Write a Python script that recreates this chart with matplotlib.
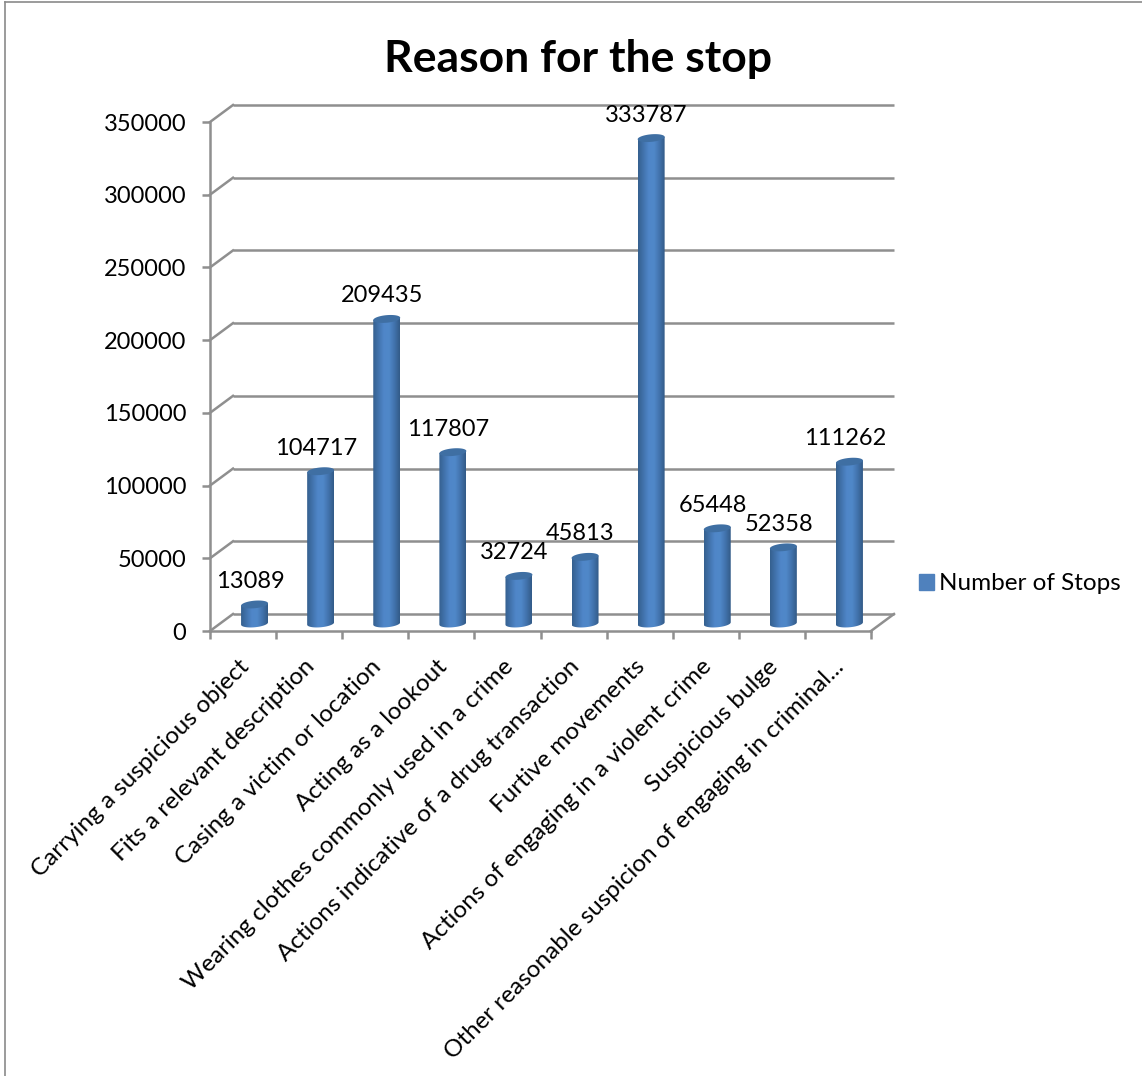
import numpy as np
import matplotlib
matplotlib.use("Agg")
import matplotlib.pyplot as plt
from matplotlib.colors import LinearSegmentedColormap
from matplotlib.lines import Line2D
from matplotlib.patches import Patch, PathPatch
from matplotlib.path import Path
from matplotlib.transforms import ScaledTranslation

plt.rcParams['font.family'] = ['Lato', 'DejaVu Sans']

categories = [
    "Carrying a suspicious object",
    "Fits a relevant description",
    "Casing a victim or location",
    "Acting as a lookout",
    "Wearing clothes commonly used in a crime",
    "Actions indicative of a drug transaction",
    "Furtive movements",
    "Actions of engaging in a violent crime",
    "Suspicious bulge",
    "Other reasonable suspicion of engaging in criminal...",
]
stops = [13089, 104717, 209435, 117807, 32724, 45813, 333787, 65448, 52358, 111262]
y_ticks = [0, 50000, 100000, 150000, 200000, 250000, 300000, 350000]
series_name = "Number of Stops"
title = "Reason for the stop"

W, H = 1142, 1076
GRID = '#8f8f8f'
TEXT = '#000000'

fig = plt.figure(figsize=(W / 100, H / 100), dpi=100, facecolor='white')
# axes is the front plane of the fake 3d box
ax = fig.add_axes([210 / W, 1 - 631 / H, 661 / W, 509 / H])
ax.set_facecolor('none')


def shifted(dx, dy):
    # pixel offset on top of the data scale, y up
    return ax.transData + ScaledTranslation(dx / 100, dy / 100, fig.dpi_scale_trans)


back = shifted(23, 17)
bar_trans = shifted(11.5, 7.5)
xmin, xmax = -0.5, len(stops) - 0.5

# back wall lines and the slanted bit on the side wall
for v in y_ticks:
    ax.plot([xmin, xmax], [v, v], transform=back, color=GRID, lw=1.8, clip_on=False, zorder=1,
            solid_capstyle='butt')
    ax.add_line(Line2D([210 / W, 233 / W], [1 - (631 - v * 509 / 350000) / H, 1 - (614 - v * 509 / 350000) / H],
                       transform=fig.transFigure, color=GRID, lw=1.8, clip_on=False, zorder=1))
# floor right edge
fig.add_artist(Line2D([871 / W, 894 / W], [1 - 631 / H, 1 - 614 / H], color=GRID, lw=1.8))

cyl = LinearSegmentedColormap.from_list('cyl', ['#35608f', '#4273ad', '#4f86c8', '#5088c9', '#4273ad', '#335b88'])
half = 0.204
rise = 2600
tilt = 800
t = np.linspace(0, np.pi, 40)

for i, val in enumerate(stops):
    xs = half * np.cos(t)
    # body outline, lower edge then upper edge
    top_x = i + xs
    top_y = val + rise * 0.2 * np.sin(t) + tilt * np.cos(t)
    low_x = i - xs
    low_y = -rise * np.sin(t) - tilt * np.cos(t)
    verts = np.column_stack([np.r_[top_x, low_x], np.r_[top_y, low_y]])
    clip = PathPatch(Path(np.vstack([verts, verts[0]])), transform=bar_trans, fc='none', ec='none')
    ax.add_patch(clip)
    im = ax.imshow(np.linspace(0, 1, 64).reshape(1, -1), cmap=cyl, aspect='auto', interpolation='bilinear',
                   extent=(i - half, i + half, -6000, val + 6000), zorder=3)
    im.set_transform(bar_trans)
    im.set_clip_path(clip)
    # dark cap
    ct = np.linspace(0, 2 * np.pi, 60)
    ax.fill(i + half * np.cos(ct), val + rise * np.sin(ct) + tilt * np.cos(ct), transform=bar_trans,
            color='#3f6fa3', lw=0, zorder=4, clip_on=False)
    ax.annotate(str(val), (i, val), xytext=(7, 30.5), textcoords='offset pixels', ha='center', va='center',
                fontsize=17, color=TEXT, zorder=5, annotation_clip=False)

ax.set_xlim(xmin, xmax)
ax.set_ylim(0, 350000)
for s in ['top', 'right']:
    ax.spines[s].set_visible(False)
for s in ['left', 'bottom']:
    ax.spines[s].set_color(GRID)
    ax.spines[s].set_linewidth(1.8)
    ax.spines[s].set_zorder(2)

ax.set_yticks(y_ticks)
ax.set_yticklabels([str(v) for v in y_ticks], fontsize=17, color=TEXT)
ax.tick_params(axis='y', length=6, width=1.8, color=GRID, pad=11)
ax.set_xticks(np.arange(xmin, xmax + 1), minor=True)
ax.set_xticks(np.arange(len(categories)))
ax.set_xticklabels(categories, rotation=45, ha='right', va='top', rotation_mode='anchor', fontsize=17.5, color=TEXT)
ax.tick_params(axis='x', which='major', length=0, pad=18)
ax.tick_params(axis='x', which='minor', length=6, width=1.8, color=GRID)
nudge = ScaledTranslation(-5 / 100, 0, fig.dpi_scale_trans)
for lab in ax.get_xticklabels():
    lab.set_transform(lab.get_transform() + nudge)

fig.text(578 / W, 1 - 59 / H, title, ha='center', va='center', fontsize=32, fontweight='bold', color=TEXT)
fig.legend(handles=[Patch(color='#4f81bd', label=series_name)], loc='center left',
           bbox_to_anchor=(897 / W, 1 - 584 / H), frameon=False, fontsize=17.5, handlelength=0.62,
           handleheight=0.62, handletextpad=0.2, labelcolor=TEXT)

# outer chart frame, cut off by the crop
fig.add_artist(Line2D([5 / W, 5 / W], [0, 1 - 2 / H], color='#8a8a8a', lw=1.2))
fig.add_artist(Line2D([5 / W, 1], [1 - 2 / H, 1 - 2 / H], color='#8a8a8a', lw=1.2))

fig.savefig('out.png', dpi=100)
